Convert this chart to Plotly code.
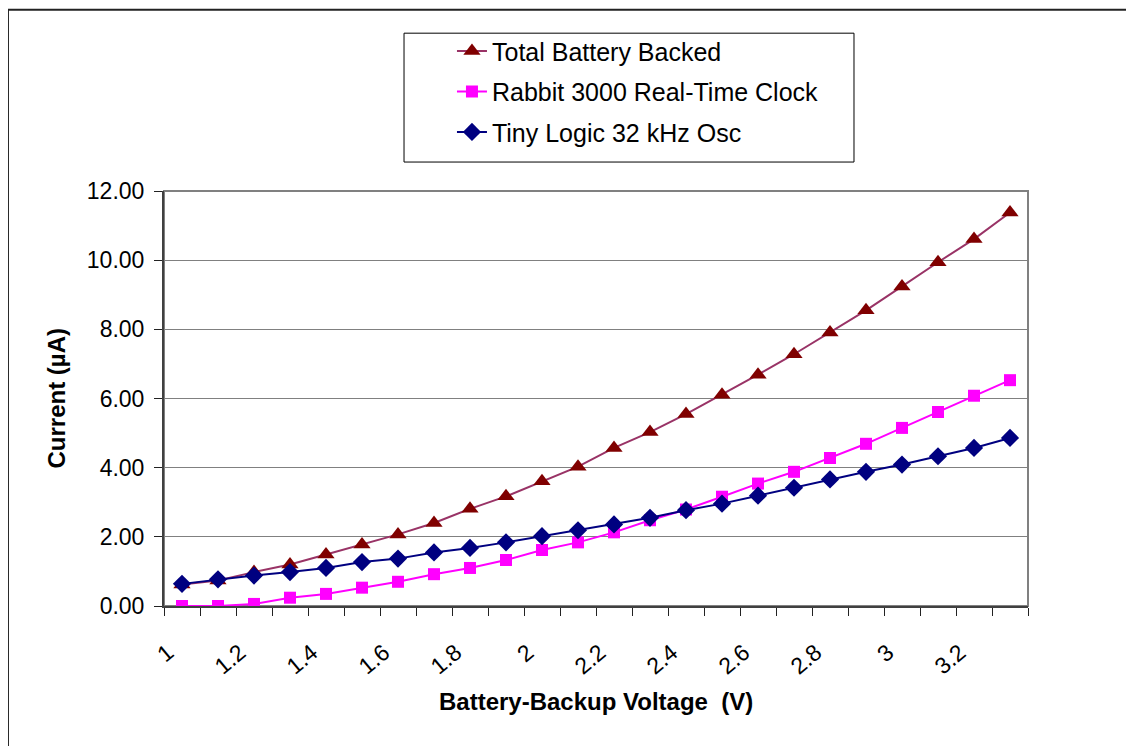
import plotly.graph_objects as go

voltages = [1.0, 1.1, 1.2, 1.3, 1.4, 1.5, 1.6, 1.7, 1.8, 1.9, 2.0, 2.1,
            2.2, 2.3, 2.4, 2.5, 2.6, 2.7, 2.8, 2.9, 3.0, 3.1, 3.2, 3.3]
total_battery = [0.62, 0.74, 0.98, 1.20, 1.49, 1.78, 2.07, 2.40, 2.81, 3.17, 3.61, 4.03,
                 4.57, 5.03, 5.55, 6.11, 6.69, 7.28, 7.91, 8.55, 9.24, 9.94, 10.61, 11.38]
rabbit_rtc = [0.00, 0.00, 0.06, 0.24, 0.35, 0.53, 0.70, 0.92, 1.10, 1.33, 1.62, 1.84,
              2.13, 2.48, 2.79, 3.16, 3.54, 3.88, 4.28, 4.69, 5.15, 5.61, 6.08, 6.53]
tiny_logic = [0.64, 0.77, 0.88, 0.98, 1.10, 1.27, 1.37, 1.55, 1.68, 1.84, 2.02, 2.19,
              2.36, 2.55, 2.77, 2.96, 3.19, 3.42, 3.66, 3.88, 4.09, 4.33, 4.57, 4.86]
x_tick_vals = [1.0, 1.2, 1.4, 1.6, 1.8, 2.0, 2.2, 2.4, 2.6, 2.8, 3.0, 3.2]
x_tick_text = ["1", "1.2", "1.4", "1.6", "1.8", "2", "2.2", "2.4", "2.6", "2.8", "3", "3.2"]
series_names = ["Total Battery Backed", "Rabbit 3000 Real-Time Clock", "Tiny Logic 32 kHz Osc"]

FONT = "Liberation Sans, Arial, sans-serif"

fig = go.Figure()
fig.add_trace(go.Scatter(
    x=voltages, y=total_battery, name=series_names[0], mode="lines+markers",
    legendgroup="a",
    line=dict(color="#993366", width=2),
    marker=dict(symbol="triangle-up", size=15, color="#800000"),
))
fig.add_trace(go.Scatter(
    x=voltages, y=rabbit_rtc, name=series_names[1], mode="lines+markers",
    legendgroup="b",
    line=dict(color="#FF00FF", width=2),
    marker=dict(symbol="square", size=12, color="#FF00FF"),
))
fig.add_trace(go.Scatter(
    x=voltages, y=tiny_logic, name=series_names[2], mode="lines+markers",
    legendgroup="c",
    line=dict(color="#000080", width=2),
    marker=dict(symbol="diamond", size=14, color="#000080"),
))

# outer chart border (left and top edges), plot-area border (gray), legend box
fig.add_shape(type="line", xref="paper", yref="paper", x0=-0.1806, x1=-0.1806, y0=-0.5, y1=1.4368,
              line=dict(color="#222222", width=2), layer="below")
fig.add_shape(type="line", xref="paper", yref="paper", x0=-0.1806, x1=1.3, y0=1.4368, y1=1.4368,
              line=dict(color="#222222", width=2), layer="below")
fig.add_shape(type="rect", xref="paper", yref="paper", x0=0, x1=1, y0=0, y1=1,
              line=dict(color="#808080", width=2), layer="below")
fig.add_shape(type="rect", xref="paper", yref="paper", x0=0.2778, x1=0.7986, y0=1.0698, y1=1.3803,
              line=dict(color="black", width=1), fillcolor="white", layer="below")

fig.update_layout(
    width=1126, height=738,
    margin=dict(l=156, r=106, t=183, b=140),
    paper_bgcolor="white", plot_bgcolor="white",
    font=dict(family=FONT, size=23, color="black"),
    showlegend=True,
    legend=dict(
        x=0.3333, y=1.3923, xanchor="left", yanchor="top",
        bgcolor="rgba(0,0,0,0)", borderwidth=0,
        font=dict(family=FONT, size=25, color="black"),
        traceorder="grouped", tracegroupgap=5,
    ),
    xaxis=dict(
        range=[0.95, 3.35], showgrid=False, zeroline=False,
        tickmode="array", tickvals=x_tick_vals, ticktext=x_tick_text,
        tickangle=-40, ticks="outside", ticklen=8, tickcolor="rgba(0,0,0,0)",
        ticklabelstandoff=14, ticklabelshift=-14,
        tickfont=dict(family=FONT, size=23),
        showline=True, linecolor="#404040", linewidth=2,
        minor=dict(tick0=0.95, dtick=0.1, ticks="outside", ticklen=8,
                   tickcolor="#222222", tickwidth=1, showgrid=False),
    ),
    yaxis=dict(
        range=[0, 12], dtick=2, tick0=0, tickformat=".2f",
        showgrid=True, gridcolor="#808080", gridwidth=1, zeroline=False,
        ticks="outside", ticklen=8, tickcolor="#222222",
        ticklabelstandoff=5,
        tickfont=dict(family=FONT, size=23),
        showline=True, linecolor="#404040", linewidth=2,
    ),
    annotations=[
        dict(text="<b>Battery-Backup Voltage  (V)</b>", xref="paper", yref="paper",
             x=0.5, y=(606.5 - 702) / 415.5, xanchor="center", yanchor="middle",
             showarrow=False, font=dict(family=FONT, size=24, color="black")),
        dict(text="<b>Current (µA)</b>", xref="paper", yref="paper",
             x=(56 - 164) / 864, y=0.5, xanchor="center", yanchor="middle",
             textangle=-90, showarrow=False, font=dict(family=FONT, size=24, color="black")),
    ],
)

fig.write_html("out.html")
